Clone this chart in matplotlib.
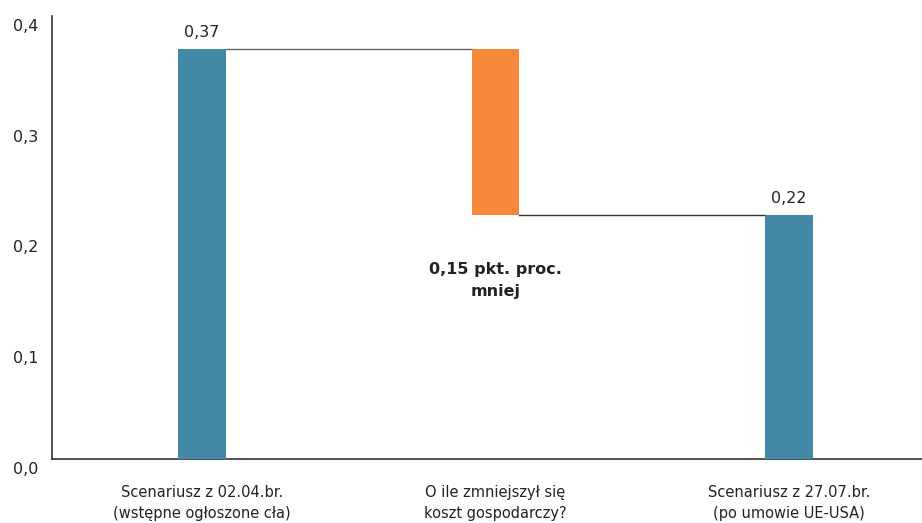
import matplotlib
matplotlib.use("Agg")
import matplotlib.pyplot as plt
import matplotlib.transforms as mtrans

categories = ["Scenariusz z 02.04.br.\n(wstępne ogłoszone cła)",
              "O ile zmniejszył się\nkoszt gospodarczy?",
              "Scenariusz z 27.07.br.\n(po umowie UE-USA)"]
start_value = 0.37
end_value = 0.22
change = end_value - start_value
value_labels = ["0,37", "", "0,22"]
yticks = [0.0, 0.1, 0.2, 0.3, 0.4]
ytick_labels = ["0,0", "0,1", "0,2", "0,3", "0,4"]
annotation = "0,15 pkt. proc.\nmniej"

plt.rcParams['font.family'] = ['DejaVu Sans']

teal = "#4389A6"
orange = "#F5883A"
W, H = 922, 523
fig = plt.figure(figsize=(W/100, H/100), dpi=100)
ax = fig.add_axes([52/W, (H-459)/H, 870/W, 443/H])

x = [0, 1, 2]
bw = 0.163
heights = [start_value, -change, end_value]
bottoms = [0, end_value, 0]
colors = [teal, orange, teal]
ax.bar(x, heights, bottom=bottoms, width=bw, color=colors, zorder=3)

# connectors
ax.plot([x[0] + bw/2, x[1] - bw/2], [start_value, start_value], color="#666666", lw=1.0, zorder=2)
ax.plot([x[1] + bw/2, x[2] - bw/2], [end_value, end_value], color="#333333", lw=1.0, zorder=2)

for xi, h, b, lab in zip(x, heights, bottoms, value_labels):
    if lab:
        ax.annotate(lab, (xi, b + h), xytext=(0, 7), textcoords="offset points",
                    ha="center", va="bottom", fontsize=11.5, color="#222222")

ax.text(x[1], 0.161, annotation, ha="center", va="center", fontsize=11.5,
        fontweight="bold", color="#222222", linespacing=1.6)

ax.set_xlim(-0.51, 2.452)
ax.set_ylim(0, 0.4)
ax.set_xticks(x)
ax.set_xticklabels(categories, fontsize=10.5, color="#222222", linespacing=1.5)
ax.set_yticks(yticks)
ax.set_yticklabels(ytick_labels, fontsize=11.5, color="#222222")
ax.tick_params(axis="both", length=0)
ax.tick_params(axis="y", pad=10)
ax.tick_params(axis="x", pad=19)
offset = mtrans.ScaledTranslation(0, -9/100, fig.dpi_scale_trans)
for lab in ax.get_yticklabels():
    lab.set_transform(lab.get_transform() + offset)
    lab.set_horizontalalignment("right")

for s in ["top", "right"]:
    ax.spines[s].set_visible(False)
for s in ["left", "bottom"]:
    ax.spines[s].set_color("#333333")
    ax.spines[s].set_linewidth(1.2)

fig.savefig("out.png", dpi=100)
